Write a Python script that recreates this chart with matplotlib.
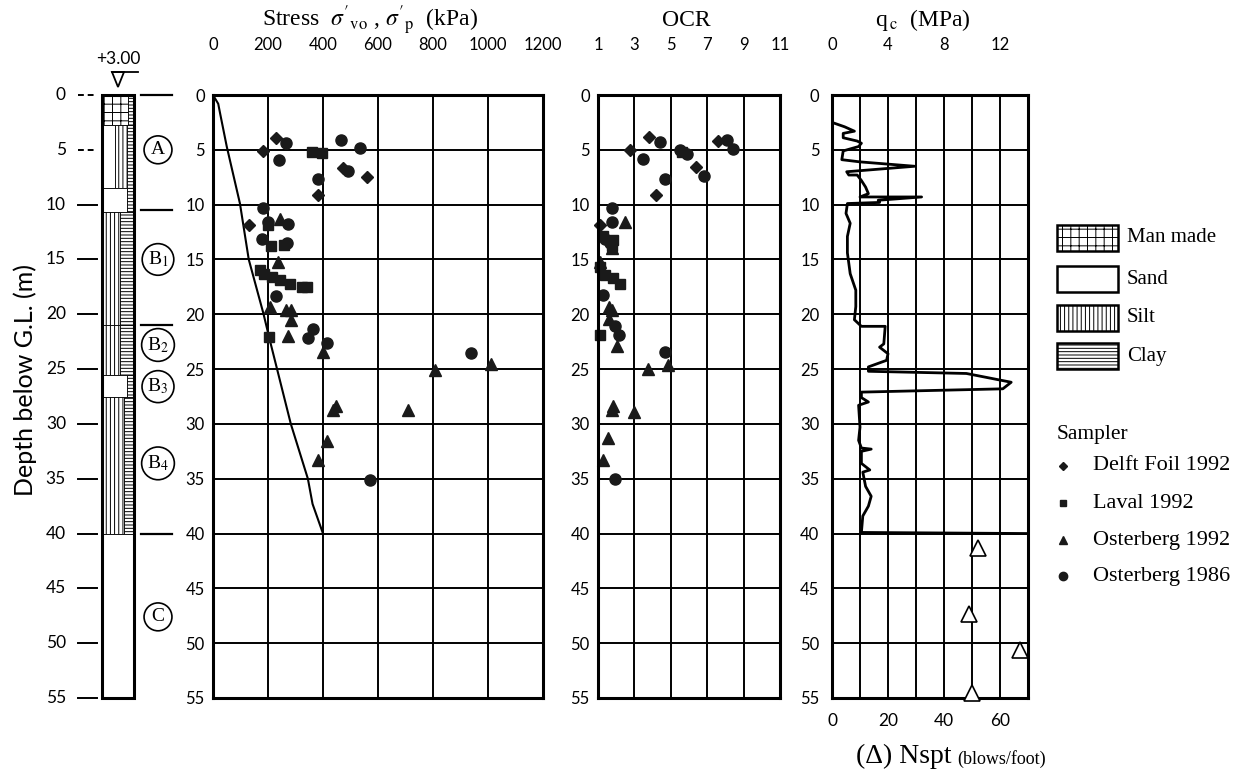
import matplotlib
matplotlib.use('Agg')
import matplotlib.pyplot as plt
from matplotlib.patches import Rectangle, Polygon

# ---------------- data ----------------
depth_ticks = [0, 5, 10, 15, 20, 25, 30, 35, 40, 45, 50, 55]
stress_ticks = [0, 200, 400, 600, 800, 1000, 1200]
ocr_ticks = [1, 3, 5, 7, 9, 11]
qc_ticks = [0, 4, 8, 12]
qc_grid = [2, 6, 10, 14]
nspt_ticks = [0, 20, 40, 60]

# effective overburden stress line
svo_depth = [0, 0.8, 1.7, 3.2, 4.7, 9.9, 15.0, 19.9, 22.4, 26.0, 30.0, 35.0, 37.3, 40.0]
svo_stress = [0, 19, 26, 38, 50, 98, 130, 183, 207, 243, 283, 345, 362, 400]

# preconsolidation stress (kPa) by sampler
delft_stress = [229, 181, 474, 559, 383, 132]
delft_sdepth = [3.95, 5.1, 6.7, 7.45, 9.1, 11.9]
laval_stress = [360, 395, 201, 212, 258, 170, 187, 214, 244, 280, 322, 340, 205]
laval_sdepth = [5.2, 5.3, 11.9, 13.8, 13.7, 16.0, 16.3, 16.6, 16.9, 17.2, 17.5, 17.5, 22.1]
ost92_stress = [243, 237, 207, 266, 282, 282, 274, 399, 807, 1011, 447, 435, 710, 413, 380]
ost92_sdepth = [11.3, 15.2, 19.3, 19.6, 19.6, 20.5, 22.0, 23.4, 25.1, 24.5, 28.4, 28.7, 28.7, 31.6, 33.3]
ost86_stress = [265, 240, 465, 535, 492, 383, 183, 274, 201, 179, 270, 229, 365, 347, 413, 937, 571]
ost86_sdepth = [4.4, 5.9, 4.1, 4.8, 6.9, 7.7, 10.3, 11.8, 11.6, 13.1, 13.5, 18.3, 21.3, 22.2, 22.6, 23.5, 35.1]

# OCR by sampler
delft_ocr = [2.76, 3.8, 4.17, 6.4, 7.6, 1.1]
delft_odepth = [5.0, 3.8, 9.1, 6.6, 4.2, 11.9]
laval_ocr = [5.6, 1.3, 1.84, 1.75, 1.1, 1.4, 1.84, 2.2, 1.1]
laval_odepth = [5.2, 12.9, 13.2, 13.8, 15.7, 16.4, 16.7, 17.2, 21.9]
ost92_ocr = [2.48, 1.75, 1.1, 1.6, 1.75, 1.6, 2.04, 3.76, 4.85, 1.84, 1.77, 2.98, 1.56, 1.29]
ost92_odepth = [11.6, 14.0, 15.2, 19.3, 19.6, 20.4, 22.9, 25.0, 24.6, 28.4, 28.7, 28.9, 31.3, 33.3]
ost86_ocr = [3.45, 4.4, 4.7, 5.5, 5.9, 8.1, 8.4, 6.8, 1.75, 1.75, 1.4, 1.66, 1.3, 1.95, 2.15, 4.7, 1.93]
ost86_odepth = [5.8, 4.3, 7.7, 5.0, 5.4, 4.1, 4.9, 7.4, 10.3, 11.6, 13.1, 13.5, 18.2, 21.1, 21.9, 23.4, 35.0]

# CPT cone resistance profile
qc_val = [0.0, 0.9, 1.6, 0.8, 0.8, 1.8, 2.1, 1.9, 0.8, 0.7, 2.0, 5.9, 1.05, 1.2, 1.8, 2.1, 2.4,
          2.6, 2.0, 2.8, 6.4, 3.3, 3.4, 1.1, 1.0, 1.3, 1.1, 1.1, 1.3, 1.7, 1.7, 1.6, 2.1, 3.8,
          3.7, 3.4, 4.0, 3.9, 2.6, 2.6, 9.6, 12.8, 12.2, 2.1, 2.1, 2.6, 1.9, 2.0, 1.9, 2.1, 2.8,
          2.1, 2.1, 2.7, 2.2, 2.4, 2.8, 2.6, 2.2, 2.1, 14.0]
qc_depth = [2.5, 2.9, 3.3, 3.5, 3.9, 4.2, 4.4, 4.7, 5.1, 5.9, 6.1, 6.5, 7.0, 7.3, 7.3, 7.8, 8.4,
            9.0, 9.3, 9.3, 9.3, 9.6, 9.8, 9.9, 10.8, 11.7, 12.9, 14.4, 16.3, 17.8, 19.3, 20.5, 21.1, 21.1,
            22.7, 23.0, 23.6, 24.2, 24.8, 25.2, 25.4, 26.2, 26.8, 27.1, 27.6, 28.0, 28.3, 30.3, 31.5, 32.2, 32.3,
            32.5, 33.6, 34.2, 34.4, 35.7, 36.6, 37.5, 38.4, 39.9, 40.0]

# SPT blow counts
nspt_val = [52, 49, 67, 50]
nspt_depth = [41.3, 47.3, 50.6, 54.5]

# soil column: (top, bottom, [(x0, x1, soil), ...]) with x in pixels
layer_top = [0.0, 2.7, 8.5, 10.7, 21.0, 25.5, 27.5, 40.0]
layer_bot = [2.7, 8.5, 10.7, 21.0, 25.5, 27.5, 40.0, 55.0]
layer_parts = [
    [(102, 128, 'man'), (128, 134, 'clay')],
    [(102, 115, 'sand'), (115, 127, 'silt'), (127, 134, 'clay')],
    [(102, 127, 'sand'), (127, 134, 'clay')],
    [(102, 120, 'silt'), (120, 134, 'clay')],
    [(102, 120, 'silt'), (120, 134, 'clay')],
    [(102, 127, 'sand'), (127, 134, 'clay')],
    [(102, 124, 'silt'), (124, 134, 'clay')],
    [(102, 134, 'sand')],
]
zone_labels = ['A', r'B$_1$', r'B$_2$', r'B$_3$', r'B$_4$', 'C']
zone_depth = [5.0, 15.0, 22.8, 26.6, 33.6, 47.6]
boundary_depth = [0.0, 10.5, 21.0, 40.0]

soil_names = ['Man made', 'Sand', 'Silt', 'Clay']
soil_keys = ['man', 'sand', 'silt', 'clay']
sampler_names = ['Delft Foil 1992', 'Laval 1992', 'Osterberg 1992', 'Osterberg 1986']

# ---------------- style ----------------
W, H = 1239, 771
plt.rcParams['mathtext.fontset'] = 'stix'
plt.rcParams['hatch.linewidth'] = 0.7
SERIF = ['Liberation Serif', 'DejaVu Serif']
SANS = ['Lato', 'DejaVu Sans']
TICK = 12
hatch_of = {'man': '++', 'sand': '', 'silt': '||||', 'clay': '-----'}
mk = dict(delft=('D', 6), laval=('s', 7), ost92=('^', 8), ost86=('o', 8))
MC = '#1a1a1a'

fig = plt.figure(figsize=(W / 100, H / 100), dpi=100)

y0_px, y55_px = 95, 698
bottom = 1 - y55_px / H
height = (y55_px - y0_px) / H


def set_fonts(ax):
    for lab in ax.get_yticklabels() + ax.get_xticklabels():
        lab.set_family(SANS)


def panel(x0, x1):
    ax = fig.add_axes([x0 / W, bottom, (x1 - x0) / W, height])
    ax.set_ylim(55, 0)
    ax.set_yticks(depth_ticks)
    ax.grid(True, color='black', lw=1.4)
    ax.set_axisbelow(True)
    for s in ax.spines.values():
        s.set_linewidth(2.2)
    ax.tick_params(length=0, labelsize=TICK, pad=6)
    ax.xaxis.set_ticks_position('top')
    ax.tick_params(axis='x', pad=30)
    return ax


# ---- stress panel ----
ax1 = panel(213, 543)
ax1.set_xlim(0, 1200)
ax1.set_xticks(stress_ticks)
set_fonts(ax1)
ax1.plot(svo_stress, svo_depth, color='black', lw=1.5)
for key, xs, ys in [('delft', delft_stress, delft_sdepth), ('laval', laval_stress, laval_sdepth),
                    ('ost92', ost92_stress, ost92_sdepth), ('ost86', ost86_stress, ost86_sdepth)]:
    m, s = mk[key]
    ax1.plot(xs, ys, ls='none', marker=m, ms=s, color=MC, mec=MC)

# ---- OCR panel ----
ax2 = panel(598, 780)
ax2.set_xlim(1, 11)
ax2.set_xticks(ocr_ticks)
set_fonts(ax2)
for key, xs, ys in [('delft', delft_ocr, delft_odepth), ('laval', laval_ocr, laval_odepth),
                    ('ost92', ost92_ocr, ost92_odepth), ('ost86', ost86_ocr, ost86_odepth)]:
    m, s = mk[key]
    ax2.plot(xs, ys, ls='none', marker=m, ms=s, color=MC, mec=MC, clip_on=False)

# ---- qc panel ----
ax3 = panel(832, 1028)
ax3.set_xlim(0, 14)
ax3.set_xticks(qc_ticks)
ax3.set_xticks(qc_grid, minor=True)
ax3.grid(True, which='minor', color='black', lw=1.4)
ax3.plot(qc_val, qc_depth, color='black', lw=2.0)

ax4 = ax3.twiny()
ax4.set_xlim(0, 70)
ax4.set_xticks(nspt_ticks)
ax4.xaxis.set_ticks_position('bottom')
ax4.xaxis.set_label_position('bottom')
ax4.tick_params(length=0, labelsize=TICK + 0.5, pad=11)
for s in ax4.spines.values():
    s.set_visible(False)
ax4.plot(nspt_val, nspt_depth, ls='none', marker='^', ms=12, mfc='white', mec='black', mew=1.2,
         clip_on=False, zorder=5)
set_fonts(ax4)

# restore qc ticks on top (twiny moves them to the bottom)
ax3.xaxis.set_ticks_position('top')
ax3.tick_params(axis='x', which='both', length=0, pad=30, labelsize=TICK)
ax3.tick_params(axis='y', pad=9)
set_fonts(ax3)

# ---- overlay (pixel coordinates) ----
ov = fig.add_axes([0, 0, 1, 1], facecolor='none')
ov.set_xlim(0, W)
ov.set_ylim(H, 0)
ov.axis('off')


def ypx(d):
    return y0_px + d * (y55_px - y0_px) / 55.0


# soil column
for top, bot, parts in zip(layer_top, layer_bot, layer_parts):
    for xa, xb, soil in parts:
        ov.add_patch(Rectangle((xa, ypx(top)), xb - xa, ypx(bot) - ypx(top), facecolor='white',
                               edgecolor='black', hatch=hatch_of[soil], lw=0.6))
ov.add_patch(Rectangle((102, ypx(0)), 32, ypx(55) - ypx(0), fill=False, edgecolor='black', lw=2.2))

for d in depth_ticks:
    ov.text(66, ypx(d), str(d), ha='right', va='center', fontsize=TICK + 0.5, family=SANS)
    ov.plot([78, 97], [ypx(d)] * 2, color='black', lw=1.4, ls=(0, (3, 2)) if d in (0, 5) else '-')
for d in boundary_depth:
    ov.plot([141, 172], [ypx(d)] * 2, color='black', lw=1.6)
for lab, d in zip(zone_labels, zone_depth):
    ov.text(158, ypx(d), lab, ha='center', va='center', fontsize=14, family=SERIF,
            bbox=dict(boxstyle='circle,pad=0.28', fc='white', ec='black', lw=1.2))

# water table marker
ov.text(118, 59, '+3.00', ha='center', va='center', fontsize=TICK + 0.5, family=SANS)
ov.add_patch(Polygon([[112, 72], [124, 72], [118, 87]], closed=True, fill=False, ec='black', lw=1.3))
ov.plot([112, 138], [72, 72], color='black', lw=1.3)

# axis label
fig.text(25 / W, 1 - 380 / H, 'Depth below G.L. (m)', rotation=90, ha='center', va='center',
         fontsize=18, family=SANS)

# titles
ov.text(370, 20, r"Stress  $\sigma'_{\mathrm{vo}}$ , $\sigma'_{\mathrm{p}}$  (kPa)", ha='center',
        va='center', fontsize=17, family=SERIF)
ov.text(686, 20, 'OCR', ha='center', va='center', fontsize=17, family=SERIF)
ov.text(923, 20, r'q$_{\,\mathrm{c}}$  (MPa)', ha='center', va='center', fontsize=17, family=SERIF)

# Nspt label
ov.text(952, 756, '(Δ) Nspt', ha='right', va='center', fontsize=20, family=SERIF)
ov.text(957, 759, '(blows/foot)', ha='left', va='center', fontsize=13, family=SERIF)

# legend: soils
leg_y = [238, 279, 318, 356]
for name, key, yc in zip(soil_names, soil_keys, leg_y):
    ov.add_patch(Rectangle((1057, yc - 13), 61, 26, facecolor='white', edgecolor='black',
                           hatch=hatch_of[key], lw=1.8))
    ov.text(1127, yc, name, ha='left', va='center', fontsize=15, family=SERIF)

# legend: samplers
ov.text(1057, 435, 'Sampler', ha='left', va='center', fontsize=15.5, family=SERIF)
samp_y = [466, 503, 540, 576]
for key, name, yc in zip(['delft', 'laval', 'ost92', 'ost86'], sampler_names, samp_y):
    m, s = mk[key]
    ov.plot([1063], [yc], marker=m, ms=s - 2, color=MC, ls='none')
    ov.text(1093, yc, name, ha='left', va='center', fontsize=16, family=SERIF)

fig.savefig('out.png', dpi=100)
